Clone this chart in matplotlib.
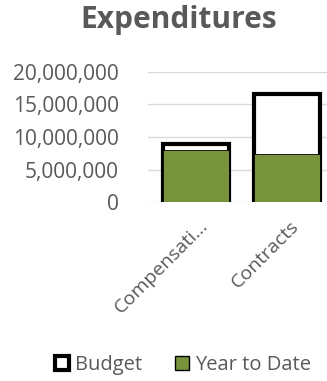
import matplotlib
matplotlib.use("Agg")
import matplotlib.pyplot as plt
import matplotlib.transforms as mtransforms
from matplotlib.patches import Patch
from matplotlib.ticker import FuncFormatter

categories = ["Compensati...", "Contracts"]
budget = [8850000, 16600000]
year_to_date = [8000000, 7350000]
yticks = [0, 5000000, 10000000, 15000000, 20000000]

plt.rcParams['font.family'] = ['Open Sans', 'DejaVu Sans']

fig = plt.figure(figsize=(3.27, 3.81), dpi=100)
ax = fig.add_axes([0.453, 0.469, 0.56, 0.343])

x = [i + 0.02 for i in range(len(categories))]
w = 0.72
ax.bar(x, budget, width=w, color="white", edgecolor="black", linewidth=3.0, zorder=3, label="Budget")
ax.bar(x, year_to_date, width=w, color="#77933C", edgecolor="black", linewidth=0.6, zorder=4, label="Year to Date")

ax.set_xlim(-0.5, 1.5)
ax.set_ylim(0, 20000000)
ax.set_yticks(yticks)
ax.yaxis.set_major_formatter(FuncFormatter(lambda v, p: f"{int(v):,}"))
ax.set_xticks(x)
ax.set_xticklabels(categories, rotation=45, ha="right", va="center", rotation_mode="anchor")
ax.tick_params(axis="y", length=0, labelsize=15, labelcolor="#595959", pad=21)
ax.tick_params(axis="x", length=0, labelsize=14, labelcolor="#595959", pad=15)
offset = mtransforms.ScaledTranslation(9 / 100, 0, fig.dpi_scale_trans)
for lbl in ax.get_xticklabels():
    lbl.set_transform(lbl.get_transform() + offset)
ax.grid(axis="y", color="#D9D9D9", linewidth=1.0, zorder=0)
for s in ax.spines.values():
    s.set_visible(False)

fig.text(0.547, 0.948, "Expenditures", ha="center", va="center", fontsize=21.5, fontweight="bold", color="#595959")

handles = [Patch(facecolor="white", edgecolor="black", linewidth=3.0, label="Budget"),
           Patch(facecolor="#77933C", edgecolor="black", linewidth=1.0, label="Year to Date")]
fig.legend(handles=handles, loc="center", bbox_to_anchor=(0.56, 0.043), ncol=2, frameon=False,
           fontsize=14.5, handlelength=0.7, handleheight=0.7, handletextpad=0.3, columnspacing=1.6,
           labelcolor="#595959")

fig.savefig("out.png", dpi=100)
